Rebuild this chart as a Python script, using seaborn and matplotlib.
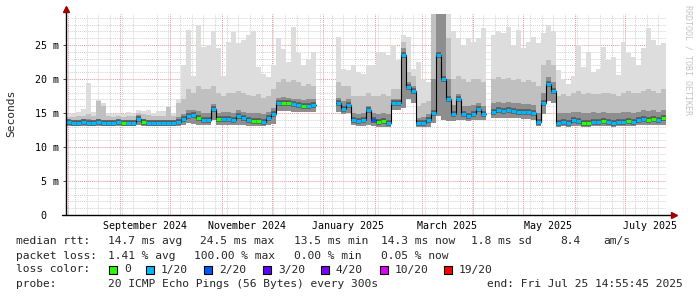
import numpy as np
import pandas as pd
import matplotlib
matplotlib.use("Agg")
import matplotlib.pyplot as plt
import matplotlib.dates as mdates
from matplotlib.ticker import MultipleLocator, FixedLocator, NullFormatter
from matplotlib.patches import Rectangle
import seaborn as sns

nan = np.nan

# ---- time axis (3-day consolidated steps) ----
start = "2024-07-30 14:55:45"
end = "2025-07-25 14:55:45"
step = "3D"

# ---- data (ms) ----
median_ms = [
    13.7, 13.6, 13.6, 13.7, 13.6, 13.6, 13.7, 13.6, 13.6, 13.6,
    13.7, 13.6, 13.6, 13.6, 14.1, 13.7, 13.6, 13.6, 13.6, 13.6,
    13.6, 13.6, 13.7, 14.1, 14.6, 14.7, 14.2, 13.9, 14.0, 15.6,
    14.1, 14.1, 14.1, 14.0, 14.6, 14.3, 13.9, 13.8, 13.8, 13.7,
    14.2, 14.8, 16.4, 16.5, 16.5, 16.3, 16.2, 16.0, 16.1, 16.2,
    nan, nan, nan, nan, 16.5, 15.6, 16.2, 14.0, 13.8, 13.9,
    15.5, 13.9, 13.7, 13.8, 13.5, 16.4, 16.4, 23.5, 18.8, 18.2,
    13.6, 13.6, 13.9, 15.0, 23.5, 20.0, 17.0, 14.9, 17.0, 14.8,
    14.6, 14.9, 15.6, 14.8, nan, 15.2, 15.4, 15.3, 15.4, 15.3,
    15.2, 15.1, 15.2, 15.0, 13.7, 16.5, 19.2, 18.3, 13.6, 13.7,
    13.6, 14.0, 13.8, 13.5, 13.6, 13.7, 13.7, 13.8, 13.7, 13.6,
    13.7, 13.7, 13.8, 13.7, 13.9, 14.1, 14.0, 14.1, 13.9, 14.2,
]
smoke_min = [
    13.1, 13.1, 13.1, 13.1, 13.1, 13.1, 13.1, 13.1, 13.1, 13.1,
    13.1, 13.1, 13.1, 13.1, 13.2, 13.1, 13.1, 13.1, 13.1, 13.1,
    13.1, 13.1, 13.1, 13.3, 13.5, 13.4, 13.3, 13.2, 13.2, 14.0,
    13.2, 13.2, 13.2, 13.2, 13.3, 13.2, 13.1, 13.1, 13.1, 13.1,
    13.2, 13.4, 15.3, 15.3, 15.3, 15.2, 15.2, 15.1, 15.1, 15.2,
    nan, nan, nan, nan, 15.2, 14.8, 15.0, 13.2, 13.1, 13.1,
    13.3, 13.1, 13.0, 13.0, 12.9, 15.5, 15.5, 15.8, 17.0, 16.5,
    12.9, 12.9, 13.0, 13.6, 14.5, 14.0, 13.8, 13.8, 14.0, 13.9,
    13.8, 13.9, 14.0, 13.9, nan, 14.2, 14.3, 14.2, 14.3, 14.2,
    14.2, 14.1, 14.1, 14.0, 13.1, 14.8, 16.8, 16.5, 13.0, 13.1,
    13.0, 13.1, 13.1, 13.0, 13.0, 13.1, 13.1, 13.1, 13.1, 13.0,
    13.1, 13.1, 13.1, 13.1, 13.2, 13.3, 13.2, 13.3, 13.2, 13.3,
]
smoke_dark = [
    14.0, 14.0, 14.0, 14.1, 14.1, 14.0, 14.1, 14.0, 14.0, 14.0,
    14.0, 14.0, 14.0, 14.0, 14.7, 14.1, 14.0, 14.0, 14.0, 14.0,
    14.0, 14.0, 14.4, 14.8, 15.5, 15.5, 15.3, 15.0, 15.0, 16.3,
    15.0, 15.2, 15.2, 15.0, 15.4, 15.2, 15.0, 15.0, 15.0, 14.8,
    15.2, 15.8, 17.2, 17.3, 17.2, 17.1, 17.0, 16.9, 17.0, 17.0,
    nan, nan, nan, nan, 17.2, 16.8, 17.0, 15.0, 14.9, 15.0,
    16.0, 15.0, 14.8, 15.0, 14.8, 17.0, 17.0, 24.5, 19.5, 19.0,
    14.2, 14.4, 14.8, 20.0, 29.6, 29.6, 20.0, 16.2, 17.8, 16.0,
    16.0, 16.2, 16.5, 16.0, nan, 16.5, 16.6, 16.5, 16.6, 16.5,
    16.4, 16.3, 16.3, 16.2, 15.0, 18.0, 20.3, 19.5, 15.0, 15.0,
    15.0, 15.2, 15.2, 15.0, 15.0, 15.1, 15.0, 15.2, 15.0, 15.0,
    15.0, 15.1, 15.2, 15.0, 15.2, 15.4, 15.3, 15.4, 15.2, 15.5,
]
smoke_mid = [
    14.4, 14.4, 14.5, 14.6, 14.8, 14.6, 16.8, 16.0, 14.5, 14.4,
    14.5, 14.4, 14.6, 14.5, 15.0, 14.8, 14.7, 14.5, 14.6, 14.6,
    15.9, 14.5, 16.5, 17.0, 18.5, 18.0, 19.0, 18.5, 18.5, 19.0,
    18.0, 17.5, 18.0, 18.0, 18.2, 18.0, 17.6, 17.5, 17.8, 17.2,
    17.5, 18.5, 19.5, 20.0, 19.5, 19.8, 19.5, 19.0, 19.2, 19.0,
    nan, nan, nan, nan, 19.5, 19.0, 19.0, 17.5, 17.5, 17.5,
    18.0, 17.5, 17.5, 17.8, 17.5, 18.5, 18.5, 25.5, 21.0, 20.5,
    16.0, 16.5, 16.8, 29.6, 29.6, 29.6, 26.0, 20.0, 20.5, 20.0,
    19.5, 20.0, 20.0, 19.5, nan, 20.0, 20.3, 20.0, 20.2, 19.8,
    20.0, 19.5, 19.8, 19.5, 19.0, 22.0, 22.8, 22.0, 17.5, 17.8,
    17.5, 18.0, 18.2, 17.8, 18.0, 17.8, 17.8, 18.0, 18.0, 17.8,
    17.5, 18.0, 18.2, 18.0, 18.0, 18.3, 18.5, 18.3, 18.0, 18.5,
]
smoke_max = [
    14.8, 14.8, 15.2, 15.6, 19.4, 15.2, 16.9, 16.4, 15.0, 14.9,
    15.0, 14.8, 15.2, 14.9, 15.4, 15.3, 15.4, 15.0, 15.3, 15.3,
    16.0, 15.0, 17.0, 22.0, 27.2, 20.5, 28.0, 24.7, 25.0, 27.0,
    24.5, 20.5, 25.5, 26.9, 25.3, 25.8, 26.5, 27.0, 21.8, 20.8,
    20.3, 22.0, 26.0, 24.4, 22.5, 27.6, 23.8, 22.0, 23.0, 24.0,
    nan, nan, nan, nan, 26.2, 21.5, 21.3, 22.0, 21.0, 20.8,
    22.0, 22.0, 24.0, 24.0, 23.5, 25.0, 22.8, 26.5, 26.2, 21.5,
    22.5, 20.0, 19.5, 29.6, 29.6, 29.6, 29.6, 27.0, 26.0, 25.0,
    26.0, 25.5, 26.0, 27.5, nan, 26.5, 27.0, 26.7, 27.6, 25.0,
    27.2, 24.6, 25.5, 26.2, 25.3, 26.7, 28.0, 27.0, 21.3, 20.0,
    19.2, 20.5, 25.0, 21.8, 24.0, 21.0, 21.5, 24.7, 22.8, 23.3,
    20.6, 25.5, 23.8, 23.3, 22.0, 24.5, 27.5, 25.7, 25.0, 25.3,
]
loss_level = [
    "1/20", "1/20", "1/20", "1/20", "1/20", "1/20", "1/20", "1/20", "1/20", "1/20",
    "1/20", "0", "1/20", "1/20", "1/20", "0", "1/20", "1/20", "1/20", "1/20",
    "1/20", "1/20", "1/20", "1/20", "1/20", "1/20", "0", "1/20", "1/20", "1/20",
    "0", "1/20", "1/20", "1/20", "1/20", "1/20", "1/20", "0", "0", "1/20",
    "1/20", "1/20", "1/20", "0", "0", "1/20", "1/20", "0", "1/20", "1/20",
    "1/20", "1/20", "1/20", "1/20", "1/20", "1/20", "1/20", "1/20", "1/20", "1/20",
    "1/20", "2/20", "0", "0", "1/20", "1/20", "1/20", "1/20", "1/20", "1/20",
    "1/20", "1/20", "1/20", "1/20", "1/20", "1/20", "1/20", "1/20", "1/20", "1/20",
    "1/20", "1/20", "1/20", "1/20", "1/20", "1/20", "1/20", "1/20", "1/20", "1/20",
    "1/20", "1/20", "1/20", "1/20", "1/20", "1/20", "1/20", "1/20", "1/20", "1/20",
    "1/20", "1/20", "1/20", "0", "0", "1/20", "1/20", "0", "1/20", "1/20",
    "1/20", "1/20", "0", "1/20", "1/20", "1/20", "0", "0", "1/20", "0",
]

loss_labels = ["0", "1/20", "2/20", "3/20", "4/20", "10/20", "19/20"]
loss_colors = ["#26ff00", "#00b8ff", "#0059ff", "#5e00ff", "#7e00ff", "#dd00ff", "#ff0000"]

y_ticks = [0, 5, 10, 15, 20, 25]
y_tick_labels = ["0  ", "5 m", "10 m", "15 m", "20 m", "25 m"]
x_label_dates = ["2024-09-16", "2024-11-16", "2025-01-16", "2025-03-16", "2025-05-16", "2025-07-16"]
x_labels = ["September 2024", "November 2024", "January 2025", "March 2025", "May 2025", "July 2025"]
y_max = 29.56

stats_line1 = ["median rtt:", "14.7 ms avg", "24.5 ms max", "13.5 ms min", "14.3 ms now", "1.8 ms sd", "8.4", "am/s"]
stats_line2 = ["packet loss:", "1.41 % avg", "100.00 % max", "0.00 % min", "0.05 % now"]
probe_text = "20 ICMP Echo Pings (56 Bytes) every 300s"
end_text = "end: Fri Jul 25 14:55:45 2025"

# ---- style ----
sns.set_theme(style="white")
plt.rcParams["font.family"] = ["DejaVu Sans Mono"]
MONO = "DejaVu Sans Mono"

W, H = 697, 297
fig = plt.figure(figsize=(W / 100, H / 100), dpi=100)
fig.patch.set_facecolor("white")
ax = fig.add_axes([66 / W, 1 - 215 / H, 600 / W, 201 / H])
ax.set_facecolor("white")

edges = pd.date_range(start, periods=len(median_ms) + 1, freq=step)
xe = mdates.date2num(edges.to_pydatetime())
# step vertices: each consolidated value spans [edge_i, edge_i+1]
xs = np.column_stack([xe[:-1], xe[1:]]).ravel()


def steps(a):
    return np.repeat(np.asarray(a, dtype=float), 2)


lo = steps(smoke_min)
ax.fill_between(xs, lo, steps(smoke_max), color="#dddddd", lw=0, zorder=2)
ax.fill_between(xs, lo, steps(smoke_mid), color="#c0c0c0", lw=0, zorder=3)
ax.fill_between(xs, lo, steps(smoke_dark), color="#8e8e8e", lw=0, zorder=4)

med_arr = np.asarray(median_ms, dtype=float)
# dark smoke core around the median (horizontal only)
ax.hlines(med_arr, xe[:-1], xe[1:], color="#5a5a5a", lw=4.0, zorder=5)
# thin black median line with vertical connectors
ax.plot(xs, steps(median_ms), color="black", lw=0.8, zorder=6)

# coloured median segments (loss colour)
rows = []
for i, (m, l) in enumerate(zip(median_ms, loss_level)):
    if np.isnan(m):
        continue
    rows.append((xe[i], m, i, l))
    rows.append((xe[i + 1], m, i, l))
seg = pd.DataFrame(rows, columns=["t", "ms", "seg", "loss"])
sns.lineplot(data=seg, x="t", y="ms", hue="loss", units="seg", estimator=None,
             palette=dict(zip(loss_labels, loss_colors)), lw=2.2, legend=False,
             sort=False, ax=ax, zorder=7, solid_capstyle="butt")

# ---- axes limits / grid ----
ax.set_xlim(xe[0], mdates.date2num(pd.Timestamp(end).to_pydatetime()))
ax.set_ylim(0, y_max)
ax.set_xlabel("")
ax.set_ylabel("")

grid_minor = dict(color="#d2d2d2", ls=(0, (1, 1)), lw=0.7)
grid_major = dict(color="#e49a9a", ls=(0, (1, 1)), lw=0.7)
ax.yaxis.set_major_locator(FixedLocator(y_ticks))
ax.yaxis.set_minor_locator(MultipleLocator(1))
ax.set_yticklabels(y_tick_labels)
ax.xaxis.set_minor_locator(mdates.WeekdayLocator(byweekday=mdates.MO))
ax.xaxis.set_minor_formatter(NullFormatter())
ax.xaxis.set_major_locator(FixedLocator(mdates.date2num(pd.to_datetime(x_label_dates).to_pydatetime())))
ax.set_xticklabels(x_labels)
ax.grid(False)
ax.grid(which="minor", axis="both", zorder=1, **grid_minor)
ax.grid(which="major", axis="y", zorder=1, **grid_major)
for d in pd.date_range("2024-08-01", "2025-07-01", freq="MS"):
    ax.axvline(mdates.date2num(d.to_pydatetime()), zorder=1, **grid_major)
ax.set_axisbelow(True)

ax.tick_params(axis="x", which="both", length=0, pad=4, labelsize=7.2, labelcolor="black")
ax.tick_params(axis="y", which="major", length=2.5, width=0.7, color="#444444", pad=2.5,
               labelsize=7.2, labelcolor="black", left=True)
ax.tick_params(axis="y", which="minor", length=0)
for lab in ax.get_xticklabels() + ax.get_yticklabels():
    lab.set_family(MONO)

for s in ax.spines.values():
    s.set_visible(False)
# axis lines with arrows
ax.plot([-4 / 600, 1 + 7 / 600], [0, 0], transform=ax.transAxes, color="black", lw=1.0,
        clip_on=False, zorder=8)
ax.plot([0, 0], [0, 1 + 4 / 201], transform=ax.transAxes, color="black", lw=1.0,
        clip_on=False, zorder=8)
ax.plot([1 + 8 / 600], [0], marker=">", ms=4, color="#a00000", transform=ax.transAxes,
        clip_on=False, zorder=9, mec="#a00000")
ax.plot([0], [1 + 5 / 201], marker="^", ms=4, color="#a00000", transform=ax.transAxes,
        clip_on=False, zorder=9, mec="#a00000")


def fx(x):
    return x / W


def fy(y):
    return 1 - y / H


FS = 8.1
fig.text(fx(11), fy(113), "Seconds", rotation=90, ha="center", va="center", family=MONO, size=FS)
fig.text(fx(688), fy(60), "RRDTOOL / TOBI OETIKER", rotation=270, ha="center", va="center",
         family=MONO, size=6.0, color="#c4c4c4")

line1_x = [16, 108, 200, 294, 381, 471, 560, 603]
for x, s in zip(line1_x, stats_line1):
    fig.text(fx(x), fy(241), s, ha="left", va="center", family=MONO, size=FS)
line2_x = [16, 108, 194, 294, 381]
for x, s in zip(line2_x, stats_line2):
    fig.text(fx(x), fy(256), s, ha="left", va="center", family=MONO, size=FS)

fig.text(fx(16), fy(269.5), "loss color:", ha="left", va="center", family=MONO, size=FS)
box_x = [109, 146, 204, 263, 321, 380, 444]
for x, lab, col in zip(box_x, loss_labels, loss_colors):
    fig.add_artist(Rectangle((fx(x), fy(273.5)), 8 / W, 8 / H, transform=fig.transFigure,
                             facecolor=col, edgecolor="black", lw=0.8))
    fig.text(fx(x + 15), fy(269.5), lab, ha="left", va="center", family=MONO, size=FS)

fig.text(fx(16), fy(284), "probe:", ha="left", va="center", family=MONO, size=FS)
fig.text(fx(108), fy(284), probe_text, ha="left", va="center", family=MONO, size=FS)
fig.text(fx(683), fy(284), end_text, ha="right", va="center", family=MONO, size=FS)

fig.savefig("out.png", dpi=100, facecolor="white")
